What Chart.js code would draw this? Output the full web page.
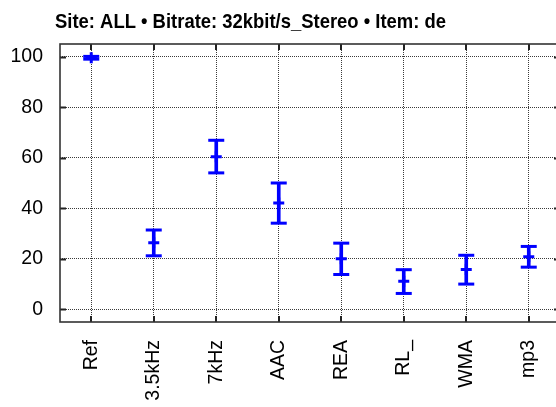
<!DOCTYPE html>
<html>
<head>
<meta charset="utf-8">
<script src="https://cdn.jsdelivr.net/npm/chart.js@4/dist/chart.umd.min.js"></script>
<style>
  html, body { margin: 0; padding: 0; background: #fff; overflow: hidden; }
  #wrap { width: 562px; height: 407px; }
</style>
</head>
<body>
<div id="wrap"><canvas id="grafica" width="562" height="407"></canvas></div>
<script>
// datos
var titulo = "Site: ALL \u2022 Bitrate: 32kbit/s_Stereo \u2022 Item: de";
var categorias = ["Ref", "3.5kHz", "7kHz", "AAC", "REA", "RL_", "WMA", "mp3"];
var medias   = [99.6, 26.4, 60.4, 42.1, 20.0, 11.1, 15.8, 20.8];
var inferior = [99.0, 21.2, 54.0, 34.1, 13.8,  6.3, 10.0, 16.7];
var superior = [100.1, 31.4, 66.9, 50.0, 26.2, 15.7, 21.4, 24.9];
var ticksY   = [0, 20, 40, 60, 80, 100];

var AZUL = "#0000ff";
var FUENTE = "'Liberation Sans', Arial, Helvetica, sans-serif";

// titulo (ligeramente estrecho como en el original) + marco + ticks hacia dentro
var pluginMarco = {
	id: "marco",
	afterDraw: function (chart) {
		var ctx = chart.ctx;
		var a = chart.chartArea;
		var sx = chart.scales.x, sy = chart.scales.y;

		ctx.save();
		ctx.strokeStyle = "#222";
		ctx.lineWidth = 2;
		ctx.beginPath();
		sy.ticks.forEach(function (t, i) {
			var y = Math.round(sy.getPixelForTick(i)) + 0.5;
			ctx.moveTo(a.left, y); ctx.lineTo(a.left + 6, y);
			ctx.moveTo(a.right, y); ctx.lineTo(a.right - 6, y);
		});
		sx.ticks.forEach(function (t, i) {
			var x = Math.round(sx.getPixelForTick(i));
			ctx.moveTo(x, a.top); ctx.lineTo(x, a.top + 6);
			ctx.moveTo(x, a.bottom); ctx.lineTo(x, a.bottom - 6);
		});
		ctx.stroke();

		ctx.lineWidth = 1.6;
		ctx.strokeStyle = "#333";
		ctx.strokeRect(a.left, a.top, a.right - a.left, a.bottom - a.top);

		ctx.fillStyle = "#000";
		ctx.font = "bold 21px " + FUENTE;
		ctx.textBaseline = "alphabetic";
		var ancho = ctx.measureText(titulo).width;
		ctx.translate(55, 28);
		ctx.scale(391 / ancho, 1);
		ctx.fillText(titulo, 0, 0);
		ctx.restore();
	}
};

function puntos(valores, estilo, radio) {
	return {
		type: "line",
		data: valores,
		showLine: false,
		pointStyle: estilo,
		pointRadius: radio,
		pointBorderWidth: 3,
		borderColor: AZUL,
		backgroundColor: AZUL,
		order: 1
	};
}

new Chart(document.getElementById("grafica"), {
	data: {
		labels: categorias,
		datasets: [
			{
				type: "bar",
				data: inferior.map(function (v, i) { return [v, superior[i]]; }),
				backgroundColor: AZUL,
				borderWidth: 0,
				barThickness: 3,
				order: 3
			},
			puntos(superior, "line", 8),
			puntos(inferior, "line", 8),
			puntos(medias, "cross", 5.5)
		]
	},
	options: {
		responsive: false,
		animation: false,
		devicePixelRatio: 1,
		layout: { autoPadding: false, padding: { top: 44, left: 0, right: 2, bottom: 0 } },
		plugins: {
			legend: { display: false },
			tooltip: { enabled: false },
			title: { display: false }
		},
		scales: {
			x: {
				type: "category",
				offset: true,
				grid: { color: "#3a3a3a", lineWidth: 1, offset: false, drawTicks: false },
				border: { display: false, dash: [1, 1] },
				ticks: {
					minRotation: 90,
					maxRotation: 90,
					padding: 18,
					color: "#000",
					font: { family: FUENTE, size: 19.5 }
				},
				afterFit: function (scale) {
					scale.height = 85;
					scale.paddingLeft = 0;
					scale.paddingRight = 0;
				}
			},
			y: {
				min: -5,
				max: 105,
				grid: { color: "#3a3a3a", lineWidth: 1, drawTicks: false },
				border: { display: false, dash: [1, 1] },
				ticks: {
					padding: 17,
					color: "#000",
					font: { family: FUENTE, size: 19.5 }
				},
				afterBuildTicks: function (scale) {
					scale.ticks = ticksY.map(function (v) { return { value: v }; });
				},
				afterFit: function (scale) {
					scale.width = 60;
					scale.paddingTop = 0;
					scale.paddingBottom = 0;
				}
			}
		}
	},
	plugins: [pluginMarco]
});
</script>
</body>
</html>
